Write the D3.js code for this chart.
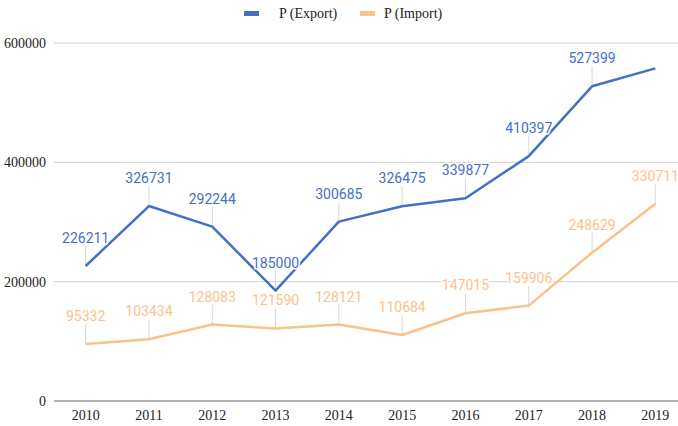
<!DOCTYPE html>
<html>
<head>
<meta charset="utf-8">
<script src="https://cdn.jsdelivr.net/npm/d3@7"></script>
<style>
  body { margin: 0; background: #fff; }
  svg { display: block; }
  .axis text { font-family: "Liberation Serif", "Times New Roman", serif; font-size: 14px; fill: #222; }
  .lbl { font-family: Roboto, sans-serif; font-size: 14px; }
</style>
</head>
<body>
<svg id="chart" width="678" height="426"></svg>
<script>
const years = ['2010', '2011', '2012', '2013', '2014', '2015', '2016', '2017', '2018', '2019'];
const exportValues = [226211, 326731, 292244, 185000, 300685, 326475, 339877, 410397, 527399, 557500];
const importValues = [95332, 103434, 128083, 121590, 128121, 110684, 147015, 159906, 248629, 330711];
// the last export point carries no label in the original
const exportLabels = [true, true, true, true, true, true, true, true, true, false];
const importLabels = [true, true, true, true, true, true, true, true, true, true];
const yTicks = [0, 200000, 400000, 600000];

const series = [
  { name: 'P (Export)', values: exportValues, labels: exportLabels, color: '#4470c4' },
  { name: 'P (Import)', values: importValues, labels: importLabels, color: '#f9c38c' }
];

const width = 678;
const height = 426;
const margin = { top: 43, right: -9, bottom: 25, left: 54 };

const svg = d3.select('#chart');

const x = d3.scaleBand()
  .domain(years)
  .range([margin.left, width - margin.right]);

const y = d3.scaleLinear()
  .domain([0, 600000])
  .range([height - margin.bottom, margin.top]);

const cx = i => x(years[i]) + x.bandwidth() / 2;

// gridlines
svg.append('g')
  .selectAll('line')
  .data(yTicks)
  .enter().append('line')
  .attr('x1', margin.left)
  .attr('x2', width)
  .attr('y1', d => y(d))
  .attr('y2', d => y(d))
  .attr('stroke', d => d === 0 ? '#666' : '#d0d0d0')
  .attr('stroke-width', d => d === 0 ? 1.2 : 1);

// y axis labels
svg.append('g')
  .attr('class', 'axis')
  .selectAll('text')
  .data(yTicks)
  .enter().append('text')
  .attr('x', 46)
  .attr('y', d => y(d) + 5)
  .attr('text-anchor', 'end')
  .text(d => d);

// x axis labels
svg.append('g')
  .attr('class', 'axis')
  .selectAll('text')
  .data(years)
  .enter().append('text')
  .attr('x', d => x(d) + x.bandwidth() / 2)
  .attr('y', 420)
  .attr('text-anchor', 'middle')
  .text(d => d);

const line = d3.line()
  .x((d, i) => cx(i))
  .y(d => y(d));

const labelled = s => s.values.map((v, i) => ({ v, i })).filter(d => s.labels[d.i]);

// leader lines go under the series lines
series.forEach(s => {
  svg.append('g')
    .selectAll('line')
    .data(labelled(s))
    .enter().append('line')
    .attr('x1', d => cx(d.i))
    .attr('x2', d => cx(d.i))
    .attr('y1', d => y(d.v))
    .attr('y2', d => y(d.v) - 20)
    .attr('stroke', '#d8d8d8')
    .attr('stroke-width', 1);
});

series.forEach(s => {
  svg.append('path')
    .datum(s.values)
    .attr('fill', 'none')
    .attr('stroke', s.color)
    .attr('stroke-width', 2.5)
    .attr('stroke-linejoin', 'round')
    .attr('d', line);
});

// value labels with white halo
series.forEach(s => {
  svg.append('g')
    .selectAll('text')
    .data(labelled(s))
    .enter().append('text')
    .attr('class', 'lbl')
    .attr('x', d => cx(d.i))
    .attr('y', d => y(d.v) - 23)
    .attr('text-anchor', 'middle')
    .attr('fill', s.color)
    .attr('stroke', '#fff')
    .attr('stroke-width', 3)
    .attr('paint-order', 'stroke')
    .text(d => d.v);
});

// legend
const legendX = [244, 360];
const legend = svg.append('g')
  .selectAll('g')
  .data(series)
  .enter().append('g')
  .attr('transform', (d, i) => `translate(${legendX[i]},11)`);

legend.append('rect')
  .attr('width', 15)
  .attr('height', 5)
  .attr('fill', d => d.color);

legend.append('text')
  .attr('x', (d, i) => i === 0 ? 35 : 24)
  .attr('y', 7)
  .attr('font-family', '"Liberation Serif", "Times New Roman", serif')
  .attr('font-size', 14)
  .attr('fill', '#222')
  .text(d => d.name);
</script>
</body>
</html>
